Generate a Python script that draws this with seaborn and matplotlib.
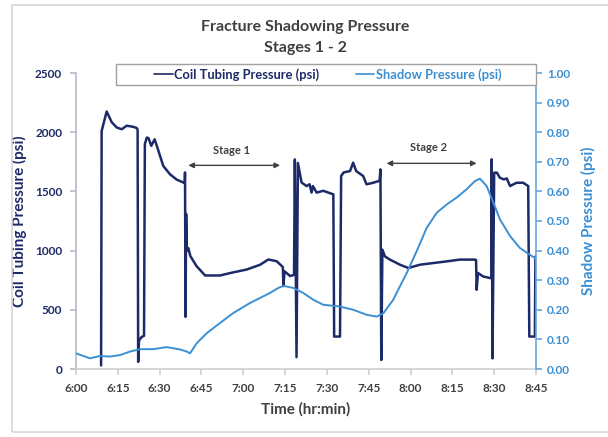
import numpy as np
import pandas as pd
import matplotlib
matplotlib.use("Agg")
import matplotlib.pyplot as plt
import seaborn as sns
from matplotlib.patches import Rectangle
from matplotlib.ticker import FuncFormatter

# ---------------- data (minutes after 6:00) ----------------
coil_t = [9.0, 9.2, 11.0, 12.8, 14.6, 16.4, 18.2, 20.6, 21.8, 22.1, 22.3, 22.6, 23.5, 24.4,
          24.7, 25.4, 26.0, 27.0, 28.2, 29.2, 31.3, 33.7, 36.1, 38.5, 39.0, 39.1, 39.3, 39.5,
          39.8, 40.3, 41.0, 43.2, 46.3, 51.7, 55.2, 61.2, 66.0, 69.0, 72.0, 73.8, 74.2, 74.4,
          74.8, 76.8, 78.2, 78.5, 79.1, 79.6, 80.9, 82.7, 83.8, 84.5, 85.0, 86.3, 88.7, 92.3,
          92.6, 94.7, 95.1, 96.0, 98.3, 99.4, 100.5, 103.0, 104.2, 106.6, 108.9, 109.2, 109.5,
          109.9, 110.8, 112.6, 116.2, 119.2, 123.4, 128.2, 133.0, 137.7, 143.1, 143.5, 143.7,
          144.2, 146.0, 148.5, 149.0, 149.1, 149.4, 150.0, 151.0, 152.0, 153.5, 154.5, 155.7,
          158.0, 160.4, 162.2, 162.6, 164.6, 164.8]
coil_p = [30, 2010, 2175, 2085, 2040, 2025, 2055, 2045, 2035, 2020, 60, 240, 270, 280,
          1900, 1955, 1950, 1885, 1940, 1870, 1715, 1645, 1600, 1575, 1570, 1660, 440, 1310,
          1000, 1020, 955, 870, 790, 790, 810, 840, 880, 925, 910, 870, 860, 700,
          825, 785, 795, 1770, 100, 1740, 1575, 1545, 1560, 1490, 1545, 1490, 1505, 1475,
          274, 274, 1630, 1660, 1672, 1743, 1672, 1630, 1560, 1573, 1590, 1686, 76,
          1008, 951, 924, 881, 853, 881, 895, 909, 924, 924, 920, 669,
          811, 782, 768, 770, 1771, 90, 1658, 1658, 1616, 1601, 1610, 1545,
          1573, 1573, 1545, 274, 274, 950]

shadow_t = [0.0, 2.6, 5.0, 8.6, 12.2, 15.8, 19.4, 23.0, 27.7, 32.5, 37.3, 39.7, 40.9, 43.3,
            46.9, 51.6, 56.4, 59.4, 62.4, 66.0, 69.6, 72.6, 74.4, 77.9, 81.5, 85.1, 88.7,
            94.7, 99.5, 104.3, 107.9, 110.3, 113.8, 115.0, 118.6, 122.2, 125.8, 129.4, 133.0,
            136.5, 140.1, 143.1, 144.9, 147.3, 149.7, 152.1, 155.7, 159.2, 162.8, 165.0]
shadow_p = [0.053, 0.044, 0.036, 0.044, 0.042, 0.047, 0.059, 0.067, 0.067, 0.074, 0.066, 0.059,
            0.053, 0.087, 0.121, 0.155, 0.189, 0.206, 0.223, 0.240, 0.257, 0.274, 0.281, 0.274,
            0.257, 0.234, 0.217, 0.211, 0.200, 0.183, 0.177, 0.189, 0.234, 0.257, 0.324, 0.398,
            0.477, 0.528, 0.556, 0.579, 0.607, 0.635, 0.643, 0.618, 0.562, 0.505, 0.449, 0.409,
            0.386, 0.372]

x_ticks = [0, 15, 30, 45, 60, 75, 90, 105, 120, 135, 150, 165]
x_labels = ["6:00", "6:15", "6:30", "6:45", "7:00", "7:15", "7:30", "7:45",
            "8:00", "8:15", "8:30", "8:45"]
left_ticks = [0, 500, 1000, 1500, 2000, 2500]
right_ticks = [0.0, 0.1, 0.2, 0.3, 0.4, 0.5, 0.6, 0.7, 0.8, 0.9, 1.0]

stage_labels = ["Stage 1", "Stage 2"]
stage_start = [40.3, 111.4]
stage_end = [73.2, 143.7]
stage_arrow_y = [1720, 1737]
stage_text_y = [1845, 1870]

# ---------------- styling ----------------
sns.set_theme(style="white")
plt.rcParams["font.family"] = ["Lato", "DejaVu Sans"]
plt.rcParams["font.weight"] = "bold"

NAVY = "#1d2a68"
LBLUE = "#3b8fd3"
DARK = "#404040"

W, H = 608, 437
fig = plt.figure(figsize=(W / 100, H / 100), dpi=100)
ax = fig.add_axes([76 / W, 1 - 369 / H, (536 - 76) / W, (369 - 73) / H])
ax2 = ax.twinx()

coil_df = pd.DataFrame({"t": coil_t, "p": coil_p})
shadow_df = pd.DataFrame({"t": shadow_t, "p": shadow_p})

sns.lineplot(data=coil_df, x="t", y="p", ax=ax, color=NAVY, lw=1.8, sort=False,
             estimator=None, label="Coil Tubing Pressure (psi)", legend=False)
sns.lineplot(data=shadow_df, x="t", y="p", ax=ax2, color=LBLUE, lw=1.4, sort=False,
             estimator=None, label="Shadow Pressure (psi)", legend=False)

ax.set_xlim(0, 165)
ax.set_ylim(0, 2500)
ax2.set_ylim(0, 1.0)
ax.set_xticks(x_ticks)
ax.set_xticklabels(x_labels)
ax.set_yticks(left_ticks)
ax2.set_yticks(right_ticks)
ax2.yaxis.set_major_formatter(FuncFormatter(lambda v, p: f"{v:.2f}"))

for a in (ax, ax2):
    a.set_facecolor("none")
    for s in a.spines.values():
        s.set_visible(False)
ax.spines["bottom"].set_visible(True)
ax.spines["bottom"].set_color("#d0d0d0")
ax.spines["left"].set_visible(True)
ax.spines["left"].set_color("#b8bccb")
ax2.spines["right"].set_visible(True)
ax2.spines["right"].set_color("#6aa8dc")
ax2.spines["right"].set_linewidth(1.2)

ax.tick_params(axis="x", which="both", length=4, color="#d0d0d0", labelsize=8.5,
               labelcolor=DARK, pad=6, bottom=True)
ax.tick_params(axis="y", length=4, color="#b8bccb", labelsize=8.5, labelcolor=NAVY,
               pad=6, left=True)
ax2.tick_params(axis="y", length=4, color="#6aa8dc", labelsize=8.5, labelcolor=LBLUE,
                pad=4, right=True)
for lbl in ax.get_xticklabels() + ax.get_yticklabels() + ax2.get_yticklabels():
    lbl.set_fontweight("bold")

ax.set_xlabel("Time (hr:min)", fontsize=11, fontweight="bold", color=DARK, labelpad=6)
ax.set_ylabel("Coil Tubing Pressure (psi)", fontsize=11, fontweight="bold", color=NAVY,
              labelpad=6)
ax2.set_ylabel("Shadow Pressure (psi)", fontsize=11, fontweight="bold", color=LBLUE,
               labelpad=8)

# stage annotations
for lab, s0, s1, ya, yt in zip(stage_labels, stage_start, stage_end, stage_arrow_y, stage_text_y):
    ax.annotate("", xy=(s0, ya), xytext=(s1, ya),
                arrowprops=dict(arrowstyle="<|-|>", color=DARK, lw=1.0,
                                mutation_scale=8, shrinkA=0, shrinkB=0))
    ax.text((s0 + s1) / 2 - 1, yt, lab, ha="center", va="center", fontsize=8,
            fontweight="bold", color=DARK)

# title
fig.text(0.502, 1 - 27 / H, "Fracture Shadowing Pressure", ha="center", va="center",
         fontsize=11.5, fontweight="bold", color=DARK)
fig.text(0.502, 1 - 48 / H, "Stages 1 - 2", ha="center", va="center",
         fontsize=11.5, fontweight="bold", color=DARK)

# legend box (drawn separately) + legend entries
box = Rectangle((116 / W, 1 - 85 / H), (536 - 116) / W, (85 - 64) / H,
                transform=fig.transFigure, facecolor="white", edgecolor="#a0a0a0",
                lw=1.0, zorder=4.5, clip_on=False)
ax2.add_artist(box)

h1, l1 = ax.get_legend_handles_labels()
h2, l2 = ax2.get_legend_handles_labels()
leg = ax2.legend(h1 + h2, l1 + l2, ncol=2, loc="center left",
                 bbox_to_anchor=(148 / W, 1 - 74.5 / H), bbox_transform=fig.transFigure,
                 frameon=False, fontsize=9.3, handlelength=1.4,
                 handletextpad=0.15, columnspacing=2.8, borderpad=0.0,
                 labelcolor="linecolor")
leg.set_zorder(6)
for t in leg.get_texts():
    t.set_fontweight("bold")
for ln in leg.get_lines():
    ln.set_linewidth(1.2)

# outer chart border
fig.patches.append(Rectangle((12 / W, 1 - 432 / H), 1.0, (432 - 5) / H,
                             transform=fig.transFigure, fill=False,
                             edgecolor="#d8d8d8", lw=1.2))

fig.savefig("out.png", dpi=100)
